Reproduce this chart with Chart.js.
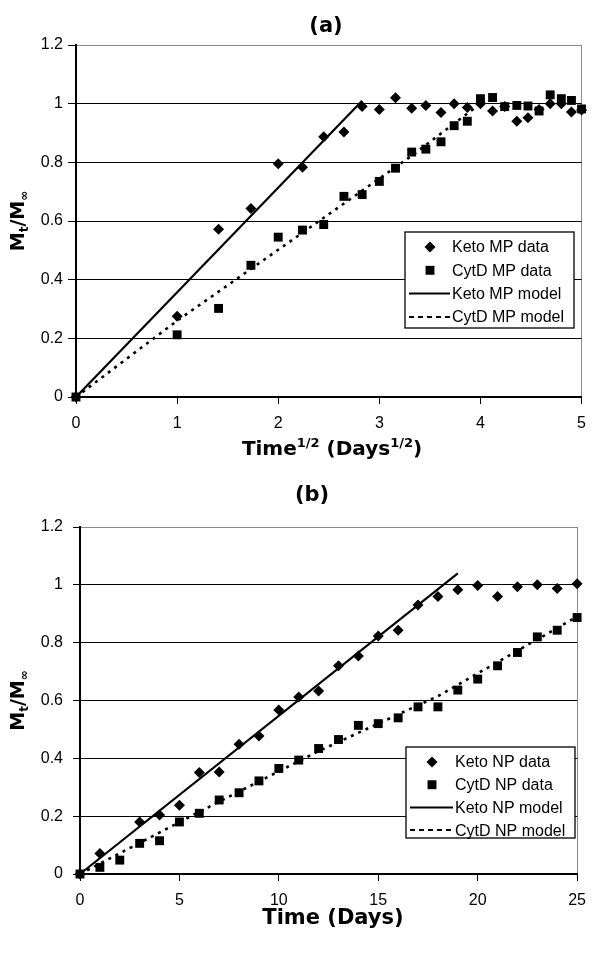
<!DOCTYPE html>
<html>
<head>
<meta charset="utf-8">
<script src="https://cdn.jsdelivr.net/npm/chart.js@4.4.0/dist/chart.umd.min.js"></script>
<style>
  html, body { margin: 0; padding: 0; background: #fff; }
  #wrap { position: relative; width: 596px; height: 954px; }
  canvas { position: absolute; left: 0; }
  #chartA { top: 0; }
  #chartB { top: 470px; }
</style>
</head>
<body>
<div id="wrap">
  <canvas id="chartA" width="596" height="470"></canvas>
  <canvas id="chartB" width="596" height="484"></canvas>
</div>
<script>
// (a) release vs square root of time
const rootDays = [0, 1, 1.41, 1.73, 2, 2.24, 2.45, 2.65, 2.83, 3, 3.16, 3.32, 3.46, 3.61, 3.74, 3.87, 4, 4.12, 4.24, 4.36, 4.47, 4.58, 4.69, 4.8, 4.9, 5];
const ketoMP = [0, 0.275, 0.572, 0.643, 0.795, 0.783, 0.887, 0.903, 0.99, 0.98, 1.02, 0.984, 0.994, 0.97, 1.0, 0.987, 1.0, 0.975, 0.99, 0.94, 0.952, 0.98, 1.0, 1.0, 0.972, 0.978];
const cytdMP = [0, 0.212, 0.302, 0.449, 0.545, 0.569, 0.588, 0.684, 0.69, 0.735, 0.78, 0.835, 0.845, 0.87, 0.925, 0.94, 1.017, 1.021, 0.99, 0.994, 0.992, 0.975, 1.03, 1.017, 1.011, 0.982];
const ketoMPModelX = [0, 2.83];
const ketoMPModelY = [0, 1.01];
const cytdMPModelX = [0, 1, 2.24, 3.31, 4.0];
const cytdMPModelY = [0, 0.26, 0.56, 0.82, 1.0];
const xTicksA = [0, 1, 2, 3, 4, 5];

// (b) release vs time
const days = [0, 1, 2, 3, 4, 5, 6, 7, 8, 9, 10, 11, 12, 13, 14, 15, 16, 17, 18, 19, 20, 21, 22, 23, 24, 25];
const ketoNP = [0, 0.071, null, 0.18, 0.204, 0.238, 0.351, 0.353, 0.449, 0.477, 0.567, 0.612, 0.633, 0.72, 0.754, 0.823, 0.843, 0.93, 0.96, 0.983, 0.998, 0.96, 0.993, 1.0, 0.987, 1.004];
const cytdNP = [0, 0.023, 0.048, 0.106, 0.115, 0.18, 0.21, 0.256, 0.281, 0.322, 0.365, 0.394, 0.434, 0.465, 0.514, 0.52, 0.54, 0.578, 0.578, 0.636, 0.674, 0.72, 0.766, 0.82, 0.843, 0.887];
const ketoNPModelX = [0, 19];
const ketoNPModelY = [0, 1.04];
const cytdNPModelX = [0, 6, 12, 18, 25];
const cytdNPModelY = [0, 0.215, 0.425, 0.615, 0.89];
const xTicksB = [0, 5, 10, 15, 20, 25];

const yTicks = [0, 0.2, 0.4, 0.6, 0.8, 1, 1.2];

Chart.defaults.font.family = '"Liberation Sans", Arial, sans-serif';
Chart.defaults.font.size = 16;
Chart.defaults.color = '#000';

const pts = (xs, ys) => xs.map((x, i) => ({ x, y: ys[i] })).filter(p => p.y !== null);

// text runs: [text, 0 normal | 1 superscript | -1 subscript]
function drawRuns(ctx, runs, cx, baseline, size) {
  const small = Math.round(size * 0.65);
  const fontFor = r => `bold ${r[1] ? small : size}px "DejaVu Sans"`;
  let total = 0;
  for (const r of runs) { ctx.font = fontFor(r); total += ctx.measureText(r[0]).width; }
  let x = cx - total / 2;
  ctx.textAlign = 'left';
  ctx.textBaseline = 'alphabetic';
  for (const r of runs) {
    ctx.font = fontFor(r);
    const dy = r[1] === 1 ? -size * 0.42 : r[1] === -1 ? size * 0.22 : 0;
    ctx.fillText(r[0], x, baseline + dy);
    x += ctx.measureText(r[0]).width;
  }
}

const yTitle = [['M', 0], ['t', -1], ['/M', 0], ['\u221E', -1]];

const figureText = {
  id: 'figureText',
  afterDraw(chart, args, o) {
    const ctx = chart.ctx;
    const area = chart.chartArea;
    ctx.save();
    ctx.fillStyle = '#000';
    ctx.font = 'bold 21px "DejaVu Sans"';
    ctx.textAlign = 'center';
    ctx.textBaseline = 'middle';
    ctx.fillText(o.panel, o.panelX, o.panelY);
    drawRuns(ctx, o.xTitle, o.xTitleX, o.xTitleY, o.xTitleSize);
    ctx.translate(o.yTitleX, (area.top + area.bottom) / 2);
    ctx.rotate(-Math.PI / 2);
    drawRuns(ctx, yTitle, 0, 0, 19);
    ctx.restore();
  }
};

function drawMarker(ctx, style, x, y, r) {
  ctx.beginPath();
  if (style === 'rectRot') {
    ctx.moveTo(x, y - r); ctx.lineTo(x + r, y); ctx.lineTo(x, y + r); ctx.lineTo(x - r, y);
  } else {
    const s = r * Math.SQRT1_2;
    ctx.rect(x - s, y - s, 2 * s, 2 * s);
  }
  ctx.closePath();
  ctx.fill();
}

const boxLegend = {
  id: 'boxLegend',
  afterDraw(chart, args, o) {
    const ctx = chart.ctx;
    ctx.save();
    ctx.fillStyle = '#fff';
    ctx.fillRect(o.left, o.top, o.width, o.height);
    ctx.strokeStyle = '#000';
    ctx.lineWidth = 1.3;
    ctx.strokeRect(o.left, o.top, o.width, o.height);
    ctx.font = '16px "Liberation Sans"';
    ctx.textBaseline = 'middle';
    ctx.textAlign = 'left';
    chart.data.datasets.forEach((ds, i) => {
      const y = o.top + o.firstRow + i * o.rowGap;
      ctx.fillStyle = '#000';
      if (ds.showLine) {
        ctx.beginPath();
        ctx.setLineDash(ds.borderDash ? [5, 4] : []);
        ctx.lineWidth = 2;
        ctx.moveTo(o.left + 4, y);
        ctx.lineTo(o.left + o.textX - 2, y);
        ctx.stroke();
        ctx.setLineDash([]);
      } else {
        drawMarker(ctx, ds.pointStyle, o.left + o.symbolX, y, ds.pointRadius);
      }
      ctx.fillText(ds.label, o.left + o.textX, y + 1);
    });
    ctx.restore();
  }
};

function datasets(names, dataX, dataA, dataB, mAX, mAY, mBX, mBY) {
  return [
    { label: names[0], data: pts(dataX, dataA), pointStyle: 'rectRot', pointRadius: 5.5, clip: false,
      backgroundColor: '#000', borderColor: '#000', borderWidth: 0, showLine: false },
    { label: names[1], data: pts(dataX, dataB), pointStyle: 'rect', pointRadius: 6.3, clip: false,
      backgroundColor: '#000', borderColor: '#000', borderWidth: 0, showLine: false },
    { label: names[2], data: pts(mAX, mAY), showLine: true, pointRadius: 0, clip: false,
      borderColor: '#000', borderWidth: 2.2 },
    { label: names[3], data: pts(mBX, mBY), showLine: true, pointRadius: 0, clip: false,
      borderColor: '#000', borderWidth: 2.6, borderDash: [3, 5] }
  ];
}

function scales(xTicks, yWidth, xHeight, yTickLen, yPad) {
  return {
    x: {
      type: 'linear', min: xTicks[0], max: xTicks[xTicks.length - 1],
      afterBuildTicks: s => { s.ticks = xTicks.map(v => ({ value: v })); },
      afterFit: s => { s.height = xHeight; },
      grid: {
        color: c => c.index === xTicks.length - 1 ? '#8a8a8a' : 'rgba(0,0,0,0)',
        tickColor: '#000', tickLength: 7, lineWidth: 1
      },
      border: { color: '#000', width: 2 },
      ticks: { padding: 10, maxRotation: 0, callback: v => String(v) }
    },
    y: {
      min: 0, max: 1.2,
      afterBuildTicks: s => { s.ticks = yTicks.map(v => ({ value: v })); },
      afterFit: s => { s.width = yWidth; },
      grid: {
        color: c => c.index === yTicks.length - 1 ? '#8a8a8a' : '#000',
        tickColor: '#000', tickLength: yTickLen, lineWidth: 1
      },
      border: { color: '#000', width: 2 },
      ticks: { padding: yPad, callback: v => String(+v.toFixed(2)) }
    }
  };
}

new Chart(document.getElementById('chartA'), {
  type: 'scatter',
  data: { datasets: datasets(['Keto MP data', 'CytD MP data', 'Keto MP model', 'CytD MP model'],
    rootDays, ketoMP, cytdMP, ketoMPModelX, ketoMPModelY, cytdMPModelX, cytdMPModelY) },
  options: {
    responsive: false, animation: false, devicePixelRatio: 1,
    layout: { padding: { top: 45, right: 6, left: 0, bottom: 0 } },
    scales: scales(xTicksA, 76, 73, 8, 5),
    plugins: {
      legend: { display: false }, tooltip: { enabled: false },
      figureText: {
        panel: '(a)', panelX: 326, panelY: 27,
        xTitle: [['Time', 0], ['1/2', 1], [' (Days', 0], ['1/2', 1], [')', 0]],
        xTitleX: 332, xTitleY: 455, xTitleSize: 20, yTitleX: 24
      },
      boxLegend: { left: 405, top: 232, width: 169, height: 96, firstRow: 15, rowGap: 23.3, symbolX: 25, textX: 47 }
    }
  },
  plugins: [figureText, boxLegend]
});

new Chart(document.getElementById('chartB'), {
  type: 'scatter',
  data: { datasets: datasets(['Keto NP data', 'CytD NP data', 'Keto NP model', 'CytD NP model'],
    days, ketoNP, cytdNP, ketoNPModelX, ketoNPModelY, cytdNPModelX, cytdNPModelY) },
  options: {
    responsive: false, animation: false, devicePixelRatio: 1,
    layout: { padding: { top: 57, right: 9, left: 0, bottom: 0 } },
    scales: scales(xTicksB, 80, 80, 7, 10),
    plugins: {
      legend: { display: false }, tooltip: { enabled: false },
      figureText: {
        panel: '(b)', panelX: 312, panelY: 26,
        xTitle: [['Time (Days)', 0]],
        xTitleX: 333, xTitleY: 454, xTitleSize: 21, yTitleX: 24
      },
      boxLegend: { left: 406, top: 277, width: 169, height: 91, firstRow: 15, rowGap: 22.7, symbolX: 26, textX: 49 }
    }
  },
  plugins: [figureText, boxLegend]
});
</script>
</body>
</html>
